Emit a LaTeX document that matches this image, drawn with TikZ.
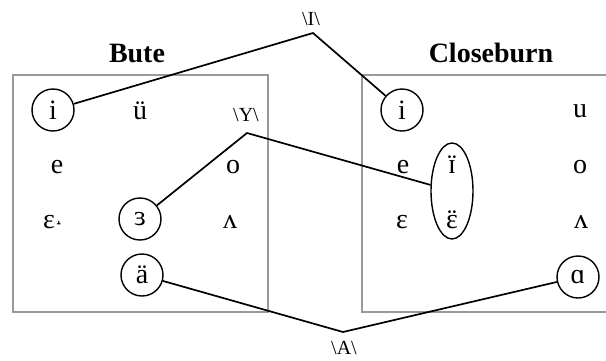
\documentclass[tikz,border=0pt]{standalone}
\usepackage{fontspec}
\setmainfont{Liberation Serif}
\newfontfamily\tackfont{DejaVu Sans}
\usetikzlibrary{shapes,positioning,calc}
\newcommand\dotsover[1]{{\ooalign{#1\cr\hidewidth¨\hidewidth\cr}}}

\begin{document}
\begin{tikzpicture}[
    x=1pt, y=-1pt,
    font=\fontsize{28}{30}\selectfont,
    area/.style={draw=black!40, line width=1.2pt},
    title/.style={font=\fontsize{28}{30}\selectfont\bfseries, inner sep=0pt},
    vowel/.style={inner sep=0pt, anchor=base},
    ring/.style={draw=black, circle, line width=1.4pt, minimum size=42pt, inner sep=0pt},
    oval/.style={draw=black, ellipse, line width=1.4pt, minimum width=42pt, minimum height=96pt, inner sep=0pt},
    merger/.style={font=\fontsize{20}{22}\selectfont, inner sep=0pt},
    link/.style={draw=black, line width=1.7pt}
]
\useasboundingbox (0,0) rectangle (606,360);

% dialect areas
\draw[area] (13,75) rectangle (268,312);
\draw[area] (362,75) rectangle (614,312);
\node[title] (bute) at (137,53) {Bute};
\node[title] (close) at (491,53) {Closeburn};

% Bute
\node[ring] (bi) at (53,110) {i};
\node[vowel] (bu) at (140,119) {ü};
\node[vowel] (be) at (57,173) {e};
\node[vowel] (bo) at (233,173) {o};
\node[vowel] (beps) at (53,228) {ɛ{\tackfont\fontsize{16}{18}\selectfont ˔}};
\node[ring] (brev) at (140,219) {ɜ};
\node[vowel] (bvee) at (230,228) {ʌ};
\node[ring] (ba) at (142,275) {ä};

% Closeburn
\node[ring] (ci) at (402,110) {i};
\node[vowel] (cu) at (580,117) {u};
\node[vowel] (ce) at (403,173) {e};
\node[oval] (cpair) at (452,191) {};
\node[vowel] (cii) at (452,173) {\dotsover{ɪ}};
\node[vowel] (co) at (580,173) {o};
\node[vowel] (ceps) at (402,228) {ɛ};
\node[vowel] (ceeps) at (452,228) {\dotsover{ɛ}};
\node[vowel] (cvee) at (581,228) {ʌ};
\node[ring] (ca) at (578,277) {ɑ};

% mergers
\node[merger] (mI) at (311,19) {\textbackslash I\textbackslash};
\coordinate (kI) at (313,33);
\node[merger] (mY) at (246,115) {\textbackslash Y\textbackslash};
\coordinate (kY) at (247,133);
\node[merger] (mA) at (344,348) {\textbackslash A\textbackslash};
\coordinate (kA) at (343,332);

\draw[link] (bi) -- (kI) -- (ci);
\draw[link] (brev) -- (kY) -- (cpair);
\draw[link] (ba) -- (kA) -- (ca);

\end{tikzpicture}
\end{document}
